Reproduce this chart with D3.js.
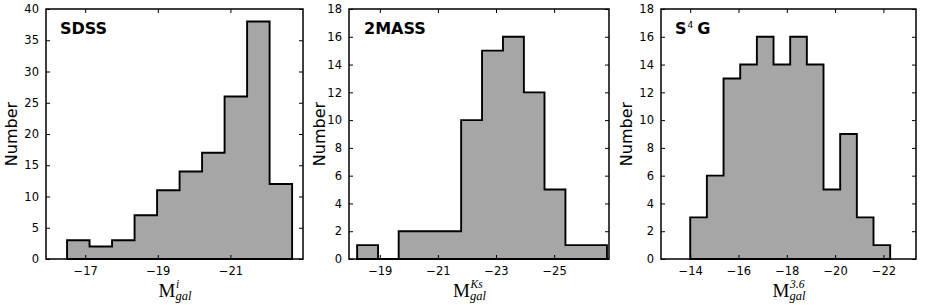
<!DOCTYPE html>
<html>
<head>
<meta charset="utf-8">
<script src="https://cdn.jsdelivr.net/npm/d3@7"></script>
<style>
  body { margin: 0; background: #fff; }
  svg { display: block; }
</style>
</head>
<body>
<svg id="chart" width="926" height="305"></svg>
<script>
// bin edges and counts
var sdssEdges = [-16.5, -17.12, -17.74, -18.36, -18.98, -19.6, -20.22, -20.84, -21.46, -22.08, -22.7];
var sdssCounts = [3, 2, 3, 7, 11, 14, 17, 26, 38, 12];

var tmassEdges = [-18.22, -18.94, -19.65, -20.37, -21.09, -21.8, -22.52, -23.24, -23.96, -24.67, -25.39, -26.11, -26.82];
var tmassCounts = [1, 0, 2, 2, 2, 10, 15, 16, 12, 5, 1, 1];

var s4gEdges = [-14.0, -14.69, -15.38, -16.07, -16.76, -17.45, -18.14, -18.83, -19.52, -20.21, -20.9, -21.59, -22.28];
var s4gCounts = [3, 6, 13, 14, 16, 14, 16, 14, 5, 9, 3, 1];

var sdssXTicks = [-17, -19, -21];
var tmassXTicks = [-19, -21, -23, -25];
var s4gXTicks = [-14, -16, -18, -20, -22];

var sdssYTicks = [0, 5, 10, 15, 20, 25, 30, 35, 40];
var otherYTicks = [0, 2, 4, 6, 8, 10, 12, 14, 16, 18];

var panels = [
  {edges: sdssEdges, counts: sdssCounts, xTicks: sdssXTicks, yTicks: sdssYTicks,
   xDomain: [-15.92, -23.0], yMax: 40, left: 46, right: 303, title: "SDSS", titleDx: 14,
   sup: "i", labelDx: 0, ylabX: 12},
  {edges: tmassEdges, counts: tmassCounts, xTicks: tmassXTicks, yTicks: otherYTicks,
   xDomain: [-17.94, -26.89], yMax: 18, left: 349, right: 609, title: "2MASS", titleDx: 15,
   sup: "Ks", labelDx: -10, ylabX: 320},
  {edges: s4gEdges, counts: s4gCounts, xTicks: s4gXTicks, yTicks: otherYTicks,
   xDomain: [-12.79, -23.35], yMax: 18, left: 661, right: 916, title: "S4G", titleDx: 14,
   sup: "3.6", labelDx: 0, ylabX: 627}
];

var plotTop = 9, plotBottom = 259;
var svg = d3.select("#chart");

panels.forEach(function(p) {
  var x = d3.scaleLinear().domain(p.xDomain).range([p.left, p.right]);
  var y = d3.scaleLinear().domain([0, p.yMax]).range([plotBottom, plotTop]);
  var g = svg.append("g");

  // step outline of the histogram
  var pts = [[p.edges[0], 0]];
  p.counts.forEach(function(c, i) {
    pts.push([p.edges[i], c]);
    pts.push([p.edges[i + 1], c]);
  });
  pts.push([p.edges[p.edges.length - 1], 0]);

  var line = d3.line()
    .x(function(d) { return x(d[0]); })
    .y(function(d) { return y(d[1]); });

  g.append("path")
    .attr("d", line(pts) + "Z")
    .attr("fill", "#a6a6a6")
    .attr("stroke", "#000")
    .attr("stroke-width", 1.9)
    .attr("stroke-linejoin", "miter");

  // axes with inward ticks on every side
  g.append("g")
    .attr("transform", "translate(0," + plotBottom + ")")
    .call(d3.axisBottom(x).tickValues(p.xTicks).tickSizeInner(-4).tickSizeOuter(0)
      .tickPadding(8).tickFormat(function(d) { return "\u2212" + Math.abs(d); }));
  g.append("g")
    .attr("transform", "translate(0," + plotTop + ")")
    .call(d3.axisTop(x).tickValues(p.xTicks).tickSizeInner(-4).tickSizeOuter(0).tickFormat(""));
  g.append("g")
    .attr("transform", "translate(" + p.left + ",0)")
    .call(d3.axisLeft(y).tickValues(p.yTicks).tickSizeInner(-4).tickSizeOuter(0).tickPadding(7));
  g.append("g")
    .attr("transform", "translate(" + p.right + ",0)")
    .call(d3.axisRight(y).tickValues(p.yTicks).tickSizeInner(-4).tickSizeOuter(0).tickFormat(""));

  g.selectAll(".domain").remove();
  g.selectAll(".tick line").attr("stroke", "#000").attr("stroke-width", 1);
  g.selectAll(".tick text")
    .attr("font-family", "DejaVu Sans, sans-serif")
    .attr("font-size", 11.5)
    .attr("fill", "#000");

  g.append("rect")
    .attr("x", p.left).attr("y", plotTop)
    .attr("width", p.right - p.left).attr("height", plotBottom - plotTop)
    .attr("fill", "none").attr("stroke", "#000").attr("stroke-width", 1.5);

  // title
  var t = g.append("text")
    .attr("x", p.left + p.titleDx).attr("y", 34)
    .attr("font-family", "DejaVu Sans, sans-serif")
    .attr("font-weight", "bold").attr("font-size", 16);
  if (p.title === "S4G") {
    t.append("tspan").text("S");
    t.append("tspan").attr("font-size", 9).attr("font-weight", "normal")
      .attr("dy", -6).attr("dx", 1).text("4");
    t.append("tspan").attr("dy", 6).attr("dx", 4).text("G");
  } else {
    t.text(p.title);
  }

  // y label
  g.append("text")
    .attr("transform", "translate(" + p.ylabX + "," + ((plotTop + plotBottom) / 2) + ") rotate(-90)")
    .attr("text-anchor", "middle")
    .attr("dominant-baseline", "middle")
    .attr("font-family", "DejaVu Sans, sans-serif")
    .attr("font-size", 16)
    .text("Number");

  // x label: M with superscript and subscript
  var cx = (p.left + p.right) / 2 + p.labelDx;
  var lab = g.append("g").attr("transform", "translate(" + (cx - 16) + ",297)")
    .attr("font-family", "Liberation Serif, DejaVu Serif, serif");
  lab.append("text").attr("x", 0).attr("y", 0).attr("font-size", 19).text("M");
  lab.append("text").attr("x", 17.5).attr("y", -9).attr("font-size", 11.5)
    .attr("font-style", "italic").text(p.sup);
  lab.append("text").attr("x", 17).attr("y", 3).attr("font-size", 12.5)
    .attr("font-style", "italic").text("gal");
});
</script>
</body>
</html>
